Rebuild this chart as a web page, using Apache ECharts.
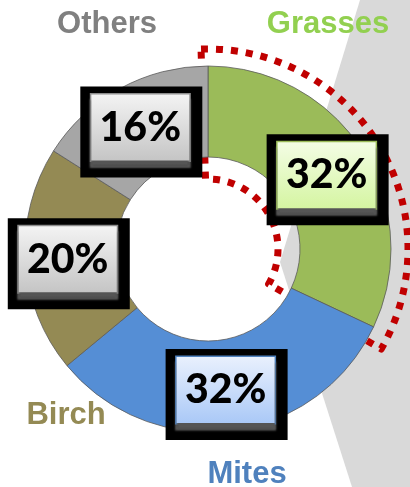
<!DOCTYPE html>
<html>
<head>
<meta charset="utf-8">
<script src="https://cdn.jsdelivr.net/npm/echarts/dist/echarts.min.js"></script>
<style>
html,body{margin:0;padding:0;background:#fff;}
#chart{width:410px;height:487px;}
</style>
</head>
<body>
<div id="chart"></div>
<script>
// ---- data ----
const categories = ['Grasses', 'Mites', 'Birch', 'Others'];
const values = [32, 32, 20, 16];          // percent
const highlightSweep = [1];               // dotted highlight around Grasses

// ---- styles ----
const sliceColors = ['#9BBB59', '#558ED5', '#948A54', '#A6A6A6'];
const nameColors = ['#92D050', '#4F81BD', '#948A54', '#808080'];
const boxTop = ['#F4FDE6', '#EAF1FD', '#F4F4F4', '#F4F4F4'];
const boxBottom = ['#D4F5A0', '#A9C8F7', '#C4C4C4', '#C4C4C4'];
const boxBorder = ['#9BBB59', '#4F81BD', '#8C8C8C', '#8C8C8C'];
const namePos = [[328, 24], [247, 474], [66, 415], [107, 24]];

const chart = echarts.init(document.getElementById('chart'), null, {renderer: 'canvas'});

function grad(i) {
  return new echarts.graphic.LinearGradient(0, 0, 0, 1, [
    {offset: 0, color: boxTop[i]},
    {offset: 1, color: boxBottom[i]}
  ]);
}

const pieData = categories.map((c, i) => ({
  name: c,
  value: values[i],
  itemStyle: {color: sliceColors[i]},
  label: {
    rich: {
      v: {
        fontFamily: 'Lato', fontWeight: 900, fontSize: 41, color: '#000',
        lineHeight: 66, height: 66, width: 78, align: 'center', verticalAlign: 'middle',
        padding: [0, 10, 0, 10],
        backgroundColor: grad(i),
        borderColor: boxBorder[i], borderWidth: 1.5,
        shadowColor: 'rgba(85,85,85,1)', shadowBlur: 2, shadowOffsetY: 6
      }
    }
  }
}));

const graphics = [{
  type: 'polygon', z: 0, silent: true,
  shape: {points: [[360, 0], [410, 0], [410, 487], [352, 487], [280, 262]]},
  style: {fill: '#D9D9D9'}
}];
categories.forEach((c, i) => {
  graphics.push({
    type: 'text', z: 0, silent: true,
    x: namePos[i][0], y: namePos[i][1],
    style: {
      text: c, fill: nameColors[i],
      font: 'bold 31px "Liberation Sans", Arial, sans-serif',
      textAlign: 'center', textVerticalAlign: 'middle'
    }
  });
});

chart.setOption({
  backgroundColor: '#fff',
  animation: false,
  graphic: graphics,
  series: [
    {
      type: 'pie', z: 1, silent: true,
      center: [208, 249], radius: [70, 200],
      startAngle: 92, endAngle: -30, clockwise: true,
      label: {show: false}, labelLine: {show: false},
      itemStyle: {color: 'rgba(0,0,0,0)', borderColor: '#C00000', borderWidth: 7, borderType: [7, 8]},
      emphasis: {disabled: true},
      data: highlightSweep.map(v => ({value: v}))
    },
    {
      type: 'pie', z: 2, silent: true,
      center: [208, 249], radius: [92, 183],
      startAngle: 90, clockwise: true,
      itemStyle: {borderColor: '#5a5a5a', borderWidth: 0.8},
      labelLine: {show: false},
      emphasis: {disabled: true},
      label: {
        show: true, position: 'inside',
        formatter: p => '{v|' + p.value + '%}',
        backgroundColor: '#000',
        padding: [8, 13, 17, 11],
        offset: [1, 6]
      },
      data: pieData
    }
  ]
});
</script>
</body>
</html>
